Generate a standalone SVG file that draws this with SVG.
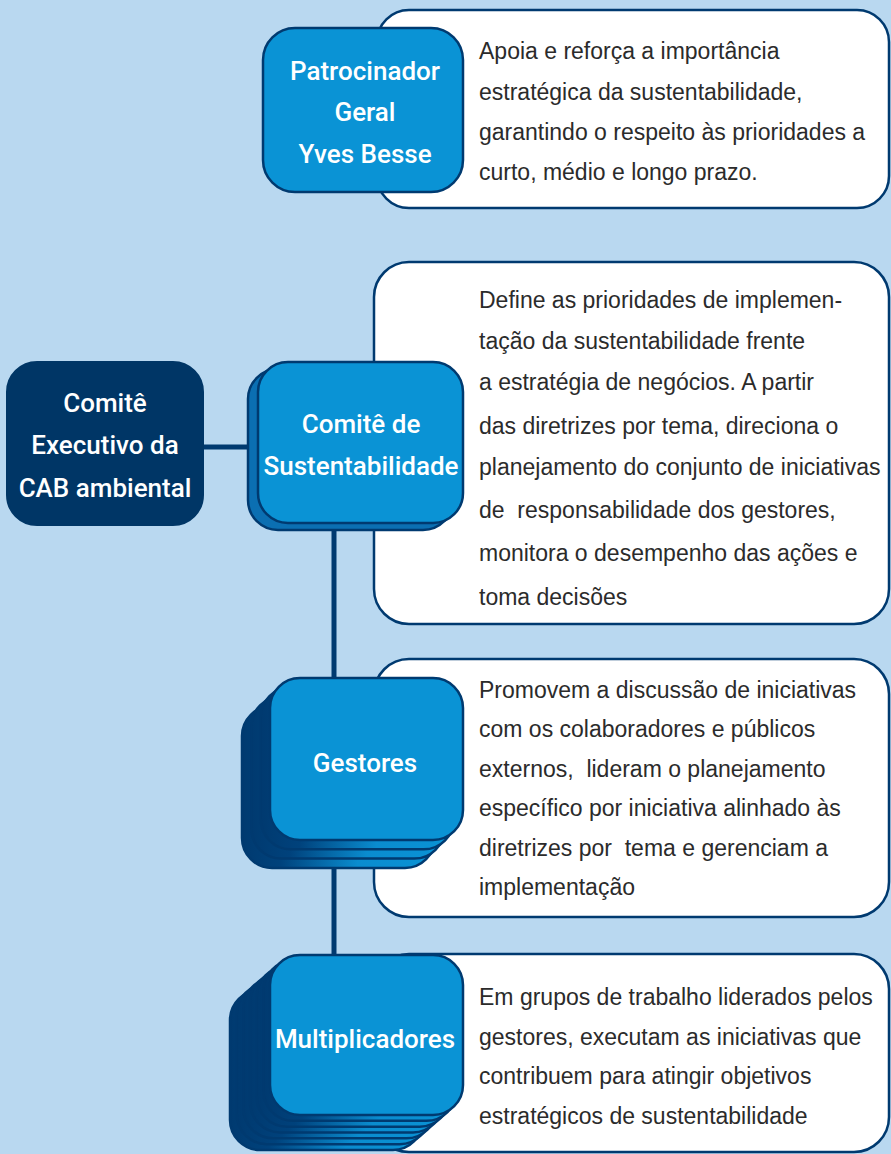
<svg xmlns="http://www.w3.org/2000/svg" width="891" height="1154" viewBox="0 0 891 1154">
<defs>
<linearGradient id="stackGrad" x1="0" y1="0" x2="1" y2="0">
<stop offset="0" stop-color="#003a70"/>
<stop offset="0.2" stop-color="#00427c"/>
<stop offset="0.6" stop-color="#0a8ccf"/>
<stop offset="1" stop-color="#0a93d5"/>
</linearGradient>
<style>
.desc{fill:#ffffff;stroke:#003a70;stroke-width:2.5}
.node{fill:#0a93d5;stroke:#003a70;stroke-width:2.5}
.back{fill:url(#stackGrad);stroke:#003a70;stroke-width:2.5}
.back1{fill:#0b6fb2;stroke:#003a70;stroke-width:2.5}
.exec{fill:#003666;stroke:#003666;stroke-width:2}
.body{font-family:"Liberation Sans",Arial,sans-serif;font-size:23px;fill:#2b2b2b}
.lbl{font-family:Roboto,"Liberation Sans",sans-serif;font-weight:500;font-size:26px;fill:#ffffff;text-anchor:middle}
.conn{stroke:#003a70;stroke-width:5;fill:none}
</style>
</defs>
<rect x="0" y="0" width="891" height="1154" fill="#b9d8f0"/>

<g id="desc-patrocinador">
<rect class="desc" x="377" y="10" width="512" height="198" rx="32"/>
<text class="body" x="479" y="59">Apoia e reforça a importância</text>
<text class="body" x="479" y="100">estratégica da sustentabilidade,</text>
<text class="body" x="479" y="140">garantindo o respeito às prioridades a</text>
<text class="body" x="479" y="180">curto, médio e longo prazo.</text>
</g>

<g id="desc-comite">
<rect class="desc" x="374" y="262" width="515" height="362" rx="35"/>
<text class="body" x="479" y="308">Define as prioridades de implemen-</text>
<text class="body" x="479" y="349">tação da sustentabilidade frente</text>
<text class="body" x="479" y="390">a estratégia de negócios. A partir</text>
<text class="body" x="479" y="434">das diretrizes por tema, direciona o</text>
<text class="body" x="479" y="475">planejamento do conjunto de iniciativas</text>
<text class="body" x="479" y="518" xml:space="preserve">de  responsabilidade dos gestores,</text>
<text class="body" x="479" y="561">monitora o desempenho das ações e</text>
<text class="body" x="479" y="605">toma decisões</text>
</g>

<g id="desc-gestores">
<rect class="desc" x="374" y="659" width="515" height="258" rx="35"/>
<text class="body" x="479" y="698">Promovem a discussão de iniciativas</text>
<text class="body" x="479" y="737">com os colaboradores e públicos</text>
<text class="body" x="479" y="777" xml:space="preserve">externos,  lideram o planejamento</text>
<text class="body" x="479" y="816">específico por iniciativa alinhado às</text>
<text class="body" x="479" y="856" xml:space="preserve">diretrizes por  tema e gerenciam a</text>
<text class="body" x="479" y="895">implementação</text>
</g>

<g id="desc-multiplicadores">
<rect class="desc" x="374" y="954" width="515" height="198" rx="35"/>
<text class="body" x="479" y="1005">Em grupos de trabalho liderados pelos</text>
<text class="body" x="479" y="1045">gestores, executam as iniciativas que</text>
<text class="body" x="479" y="1084">contribuem para atingir objetivos</text>
<text class="body" x="479" y="1124">estratégicos de sustentabilidade</text>
</g>

<g id="connectors">
<line class="conn" x1="200" y1="447" x2="252" y2="447"/>
<line class="conn" x1="334" y1="525" x2="334" y2="958"/>
</g>

<g id="node-patrocinador">
<rect class="node" x="263" y="28" width="200" height="164" rx="32"/>
<text class="lbl" x="365" y="80">Patrocinador</text>
<text class="lbl" x="365" y="121">Geral</text>
<text class="lbl" x="365" y="163">Yves Besse</text>
</g>

<g id="node-executivo">
<rect class="exec" x="7" y="362" width="196" height="163" rx="30"/>
<text class="lbl" x="105" y="412">Comitê</text>
<text class="lbl" x="105" y="454">Executivo da</text>
<text class="lbl" x="105" y="497">CAB ambiental</text>
</g>

<g id="node-comite">
<rect class="back1" x="248" y="369" width="205" height="161" rx="30"/>
<rect class="node" x="258" y="362" width="205" height="161" rx="30"/>
<text class="lbl" x="361" y="433">Comitê de</text>
<text class="lbl" x="361" y="475">Sustentabilidade</text>
</g>

<g id="node-gestores">
<rect class="back" x="242" y="706" width="193" height="162" rx="30"/>
<rect class="back" x="251.3" y="696.6" width="193" height="162" rx="30"/>
<rect class="back" x="260.7" y="687.3" width="193" height="162" rx="30"/>
<rect class="node" x="270" y="678" width="193" height="162" rx="30"/>
<text class="lbl" x="365" y="772">Gestores</text>
</g>

<g id="node-multiplicadores">
<rect class="back" x="230" y="990" width="193" height="160" rx="30"/>
<rect class="back" x="236.7" y="984.2" width="193" height="160" rx="30"/>
<rect class="back" x="243.3" y="978.3" width="193" height="160" rx="30"/>
<rect class="back" x="250" y="972.5" width="193" height="160" rx="30"/>
<rect class="back" x="256.7" y="966.7" width="193" height="160" rx="30"/>
<rect class="back" x="263.3" y="960.8" width="193" height="160" rx="30"/>
<rect class="node" x="270" y="955" width="193" height="160" rx="30"/>
<text class="lbl" x="365" y="1048">Multiplicadores</text>
</g>
</svg>
